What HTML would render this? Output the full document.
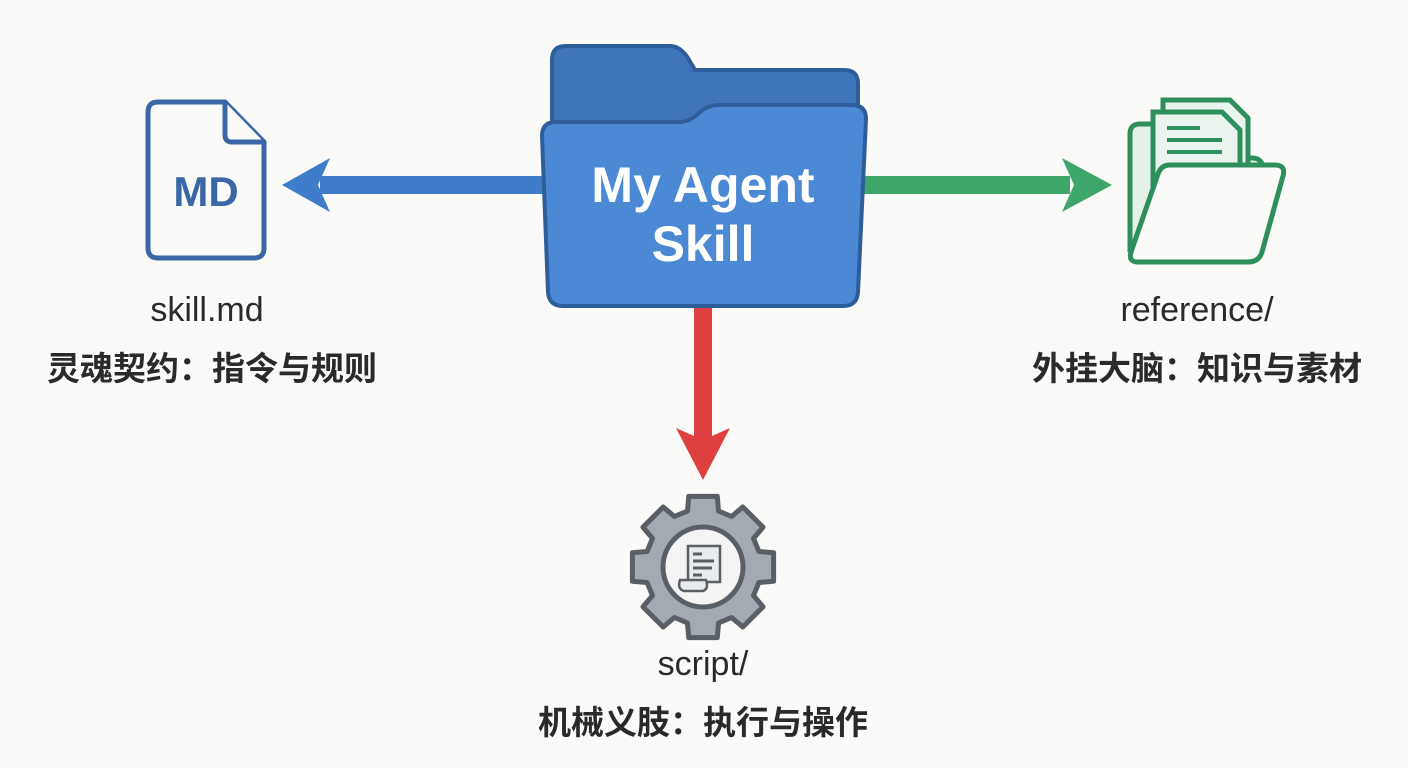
<!DOCTYPE html>
<html><head><meta charset="utf-8"><style>
html,body{margin:0;padding:0;background:#fafaf8;}
.t{position:absolute;text-align:center;font-family:"Liberation Sans","Noto Sans CJK SC",sans-serif;color:#2a2a2a;white-space:nowrap;}
</style></head><body>
<div style="position:relative;width:1408px;height:768px;overflow:hidden;">
<svg width="1408" height="768" style="position:absolute;left:0;top:0">
  <rect x="320" y="176" width="230" height="18" fill="#3f7cc9"/>
  <polygon points="282,185 330,158 318,185 330,212" fill="#3f7cc9"/>
  <rect x="860" y="176" width="210" height="18" fill="#3ea66b"/>
  <polygon points="1112,185 1062,158 1074,185 1062,212" fill="#3ea66b"/>
  <rect x="694" y="300" width="18" height="140" fill="#de4040"/>
  <polygon points="703,480 676,428 703,440 730,428" fill="#de4040"/>
  <path d="M158,102 H225 L264,142 V248 Q264,258 254,258 H158 Q148,258 148,248 V112 Q148,102 158,102 Z" fill="#fafaf8" stroke="#3a68a6" stroke-width="5"/>
  <path d="M225,102 V135 Q225,142 232,142 H264" fill="#fafaf8" stroke="#3a68a6" stroke-width="5"/>
  <text x="206" y="206" text-anchor="middle" font-family="Liberation Sans" font-weight="bold" font-size="42" fill="#3a68a6">MD</text>
  <path d="M566,46 H670 Q680,46 688,58 L695,70 H844 Q858,70 858,84 V200 H552 V60 Q552,46 566,46 Z" fill="#3e74b8" stroke="#2f5d99" stroke-width="4"/>
  <path d="M556,122 H680 Q690,122 700,112 Q708,105 720,105 H852 Q866,105 866,119 L858,292 Q857,306 843,306 H563 Q549,306 548,292 L542,136 Q542,122 556,122 Z" fill="#4b89d4" stroke="#2f5d99" stroke-width="4"/>
  <text x="703" y="202" text-anchor="middle" font-family="Liberation Sans" font-weight="bold" font-size="50" fill="#fff">My Agent</text>
  <text x="703" y="261" text-anchor="middle" font-family="Liberation Sans" font-weight="bold" font-size="50" fill="#fff">Skill</text>
  <path d="M1140,124 Q1130,124 1130,134 V252 L1160,190 H1263 V170 Q1263,158 1252,158 H1180 L1170,124 Z" fill="#e3f1e9" stroke="#2f8f5c" stroke-width="5"/>
  <path d="M1163,100 H1230 L1248,118 V200 H1163 Z" fill="#eaf4ee" stroke="#2f8f5c" stroke-width="5"/>
  <path d="M1153,112 H1222 L1240,130 V205 H1153 Z" fill="#eaf4ee" stroke="#2f8f5c" stroke-width="5"/>
  <line x1="1167" y1="128" x2="1200" y2="128" stroke="#2f8f5c" stroke-width="4"/>
  <line x1="1167" y1="140" x2="1222" y2="140" stroke="#2f8f5c" stroke-width="4"/>
  <line x1="1167" y1="152" x2="1222" y2="152" stroke="#2f8f5c" stroke-width="4"/>
  <path d="M1170,165 H1275 Q1286,165 1283,176 L1262,252 Q1259,262 1248,262 H1138 Q1128,262 1131,252 L1158,174 Q1161,165 1170,165 Z" fill="#fafaf8" stroke="#2f8f5c" stroke-width="5"/>
  <circle id="ring" cx="703" cy="567" r="40" fill="#f4f4f4" stroke="#5a5f66" stroke-width="5"/>
  <path d="M688,546 H720 V582 H688 Z" fill="#e8ecef" stroke="#5a5f66" stroke-width="2.5"/>
  <path d="M680,580 H706 Q709,589 703,591 H684 Q677,589 680,580 Z" fill="#e8ecef" stroke="#5a5f66" stroke-width="2.5"/>
  <line x1="693" y1="554" x2="702" y2="554" stroke="#5a5f66" stroke-width="3"/>
  <line x1="693" y1="561" x2="714" y2="561" stroke="#5a5f66" stroke-width="3"/>
  <line x1="693" y1="568" x2="712" y2="568" stroke="#5a5f66" stroke-width="3"/>
  <line x1="693" y1="575" x2="702" y2="575" stroke="#5a5f66" stroke-width="3"/>
</svg>
<script>
(function(){
  var cx=703,cy=567,ro=72,ri=58,n=8,pts=[];
  for(var i=0;i<n;i++){
    var a=i*2*Math.PI/n;
    var w=0.2,g=0.27;
    pts.push([a-g,ri],[a-w,ro],[a+w,ro],[a+g,ri]);
  }
  var d=pts.map(function(p,i){return (i?'L':'M')+(cx+p[1]*Math.cos(p[0])).toFixed(1)+','+(cy+p[1]*Math.sin(p[0])).toFixed(1);}).join(' ')+'Z';
  var ns='http://www.w3.org/2000/svg';
  var path=document.createElementNS(ns,'path');
  path.setAttribute('d',d);path.setAttribute('fill','#a3aab2');path.setAttribute('stroke','#5a5f66');
  path.setAttribute('stroke-width','5');path.setAttribute('stroke-linejoin','round');
  var c=document.getElementById('ring');
  c.parentNode.insertBefore(path,c);
})();
</script>
<div class="t" style="left:57px;top:291px;width:300px;font-size:34px;">skill.md</div>
<div class="t" style="left:0px;top:342px;width:424px;font-size:33px;font-weight:bold;">灵魂契约：指令与规则</div>
<div class="t" style="left:1047px;top:291px;width:300px;font-size:34px;">reference/</div>
<div class="t" style="left:985px;top:342px;width:424px;font-size:33px;font-weight:bold;">外挂大脑：知识与素材</div>
<div class="t" style="left:553px;top:645px;width:300px;font-size:34px;">script/</div>
<div class="t" style="left:491px;top:696px;width:424px;font-size:33px;font-weight:bold;">机械义肢：执行与操作</div>
</div>
</body></html>
